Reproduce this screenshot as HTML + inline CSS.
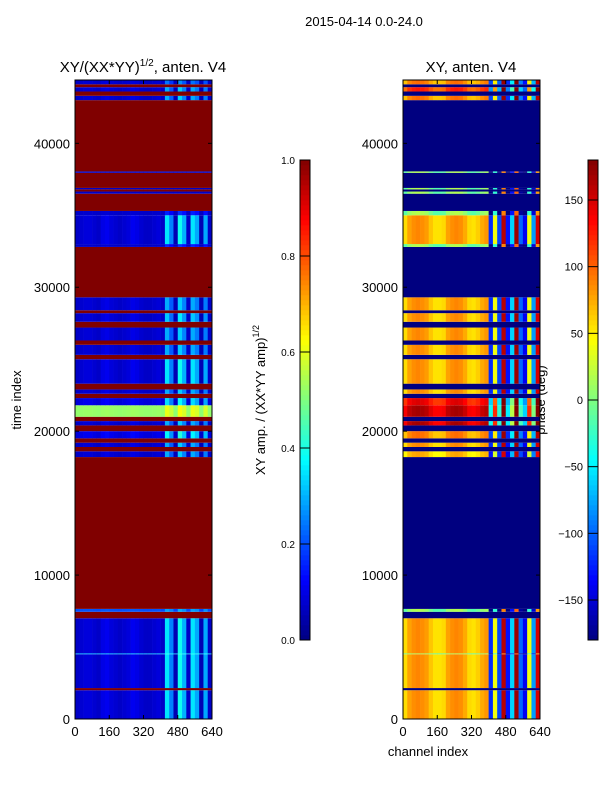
<!DOCTYPE html>
<html><head><meta charset="utf-8">
<style>
body{margin:0;background:#fff;width:600px;height:800px;overflow:hidden;font-family:"Liberation Sans","DejaVu Sans",sans-serif;}
svg text{font-family:"Liberation Sans","DejaVu Sans",sans-serif;fill:#000;}
</style></head>
<body>
<svg id="fig" width="600" height="800" viewBox="0 0 600 800" xmlns="http://www.w3.org/2000/svg">
<text x="364" y="26" font-size="13" text-anchor="middle">2015-04-14 0.0-24.0</text>
<text x="143" y="72" font-size="15" text-anchor="middle">XY/(XX*YY)<tspan font-size="10" dy="-6">1/2</tspan><tspan dy="6">, anten. V4</tspan></text>
<text x="471" y="72" font-size="15" text-anchor="middle">XY, anten. V4</text>
<text transform="translate(21,400) rotate(-90)" font-size="13" text-anchor="middle">time index</text>
<text x="428" y="756" font-size="13" text-anchor="middle">channel index</text>
<text transform="translate(265,400) rotate(-90)" font-size="13" text-anchor="middle">XY amp. / (XX*YY amp)<tspan font-size="9" dy="-6">1/2</tspan></text>
<text transform="translate(545,400) rotate(-90)" font-size="13" text-anchor="middle">phase (deg)</text>
<g id="left"></g>
<g id="right"></g>
<g id="axes"></g>
<g id="cbars"></g>
</svg>
<script>
// ---- data ----
const segStart = [0,2000,2150,4500,4560,7000,7450,7650,18200,18600,18900,19200,19500,20000,20400,20700,21000,21800,22300,22600,22900,23300,25000,25300,26000,26300,27200,27600,28200,28400,29300,32800,33000,35000,35300,36500,36650,36800,36900,37950,38050,43000,43300,43600,43900,44100];
const segEnd   = [2000,2150,4500,4560,7000,7450,7650,18200,18600,18900,19200,19500,20000,20400,20700,21000,21800,22300,22600,22900,23300,25000,25300,26000,26300,27200,27600,28200,28400,29300,32800,33000,35000,35300,36500,36650,36800,36900,37950,38050,43000,43300,43600,43900,44100,44400];
const segFlag  = [0,1,0,0,0,1,0,1,0,1,0,1,0,1,0,1,0,0,1,0,1,0,1,0,1,0,1,0,1,0,1,0,0,0,1,0,1,0,1,0,1,0,1,0,1,0];
const segAmp   = [0.07,1,0.07,0.3,0.07,1,0.2,1,0.07,1,0.07,1,0.09,1,0.07,1,0.52,0.09,1,0.07,1,0.07,1,0.07,1,0.07,1,0.07,1,0.07,1,0.07,0.07,0.07,1,0.07,1,0.07,1,0.07,1,0.07,1,0.07,1,0.07];
const segVar   = [1,0,1,0.3,1,0,0.3,0,0.8,0,0.8,0,1,0,0.8,0,0.3,0.9,0,0.8,0,1,0,0.8,0,0.8,0,0.9,0,0.8,0,0.3,1,0.3,0,0,0,0,0,0,0,0.8,0,0.8,0,0.6];
const segPhase = [0,0,0,-70,0,0,-70,0,-10,0,0,0,10,0,80,0,80,60,0,0,0,0,0,0,0,0,0,0,0,0,0,-70,0,-70,0,-70,0,-70,0,-70,0,10,0,40,0,10];
const ampProfile = [0.10,0.11,0.12,0.12,0.11,0.10,0.13,0.14,0.12,0.11,0.10,0.11,0.12,0.14,0.13,0.11,0.10,0.10,0.11,0.12,0.10,0.38,0.28,0.08,0.42,0.33,0.10,0.38,0.32,0.08,0.32,0.10];
const phaseProfile = [57,78,85,88,85,80,65,55,55,58,78,85,88,85,75,58,55,62,75,82,-120,40,-110,160,-130,-60,170,-100,-140,40,-80,150];
const yTicks = [0,10000,20000,30000,40000];
const xTicks = [0,160,320,480,640];
const ampTicks = [0.0,0.2,0.4,0.6,0.8,1.0];
const phaseTicks = [-150,-100,-50,0,50,100,150];
// ---- scales ----
const NS="http://www.w3.org/2000/svg";
const yTop=80,yBot=719,tMax=44400,chMax=640;
const tToY=t=>yBot-(t/tMax)*(yBot-yTop);
const chToX=(x0,c)=>x0+(c/chMax)*137;
function jet(v){v=Math.max(0,Math.min(1,v));const c=x=>Math.round(255*Math.max(0,Math.min(1,1.5-Math.abs(4*v-x))));return `rgb(${c(3)},${c(2)},${c(1)})`;}
function mk(tag,attrs,parent){const e=document.createElementNS(NS,tag);for(const k in attrs)e.setAttribute(k,attrs[k]);parent.appendChild(e);return e;}
const L=document.getElementById('left'),R=document.getElementById('right'),A=document.getElementById('axes'),C=document.getElementById('cbars');
const binW=chMax/ampProfile.length;
for(let s=0;s<segStart.length;s++){
  const y1=tToY(segEnd[s]),y2=tToY(segStart[s]);const h=Math.max(0.6,y2-y1);
  if(segFlag[s]){
    const a=mk('rect',{x:75,y:y1,width:137,height:h,fill:jet(1)},L);
    
    
    const b=mk('rect',{x:403,y:y1,width:137,height:h,fill:jet(0)},R);
    
    
    continue;
  }
  for(let b=0;b<ampProfile.length;b++){
    const av=segAmp[s]+(ampProfile[b]-0.1)*segVar[s];
    const pv=Math.max(-180,Math.min(180,phaseProfile[b]+segPhase[s]));
    const x0=chToX(75,b*binW),x1=chToX(75,(b+1)*binW);
    const r1=mk('rect',{x:x0,y:y1,width:x1-x0+0.3,height:h,fill:jet(av)},L);
    
    
    const p0=chToX(403,b*binW),p1=chToX(403,(b+1)*binW);
    const r2=mk('rect',{x:p0,y:y1,width:p1-p0+0.3,height:h,fill:jet((pv+180)/360)},R);
    
    
  }
}
// axes frames & ticks
[75,403].forEach((x0,i)=>{
  const f=mk('rect',{x:x0,y:yTop,width:137,height:yBot-yTop,fill:'none',stroke:'#000','stroke-width':1},A);
  
  
  yTicks.forEach(t=>{const y=tToY(t);
    mk('line',{x1:x0,x2:x0+4,y1:y,y2:y,stroke:'#000'},A);mk('line',{x1:x0+137,x2:x0+133,y1:y,y2:y,stroke:'#000'},A);
    const tx=mk('text',{x:x0-5,y:y+5,'font-size':13,'text-anchor':'end'},A);tx.textContent=t;
    
    });
  xTicks.forEach(c=>{const x=chToX(x0,c);
    mk('line',{x1:x,x2:x,y1:yBot,y2:yBot-4,stroke:'#000'},A);mk('line',{x1:x,x2:x,y1:yTop,y2:yTop+4,stroke:'#000'},A);
    const tx=mk('text',{x:x,y:736,'font-size':13,'text-anchor':'middle'},A);tx.textContent=c;
    
    });
});
// colorbars
function cbar(x,ticks,lo,hi,fmt,name){
  const g=mk('g',{},C);
  
  
  for(let i=0;i<96;i++){mk('rect',{x:x,y:640-(i+1)*5,width:10,height:5.3,fill:jet((i+0.5)/96)},g);}
  mk('rect',{x:x,y:160,width:10,height:480,fill:'none',stroke:'#000'},g);
  ticks.forEach(t=>{const y=640-(t-lo)/(hi-lo)*480;
    mk('line',{x1:x,x2:x+10,y1:y,y2:y,stroke:'#000'},g);
    const tx=mk('text',{x:x-5,y:y+4,'font-size':fmt?10:11,'text-anchor':'end'},g);tx.textContent=fmt?t.toFixed(1):(t<0?'\u2212'+(-t):t);
    
    });
}
cbar(300,ampTicks,0,1,true,'amplitude-colorbar');
cbar(588,phaseTicks,-180,180,false,'phase-colorbar');
</script>
</body></html>
